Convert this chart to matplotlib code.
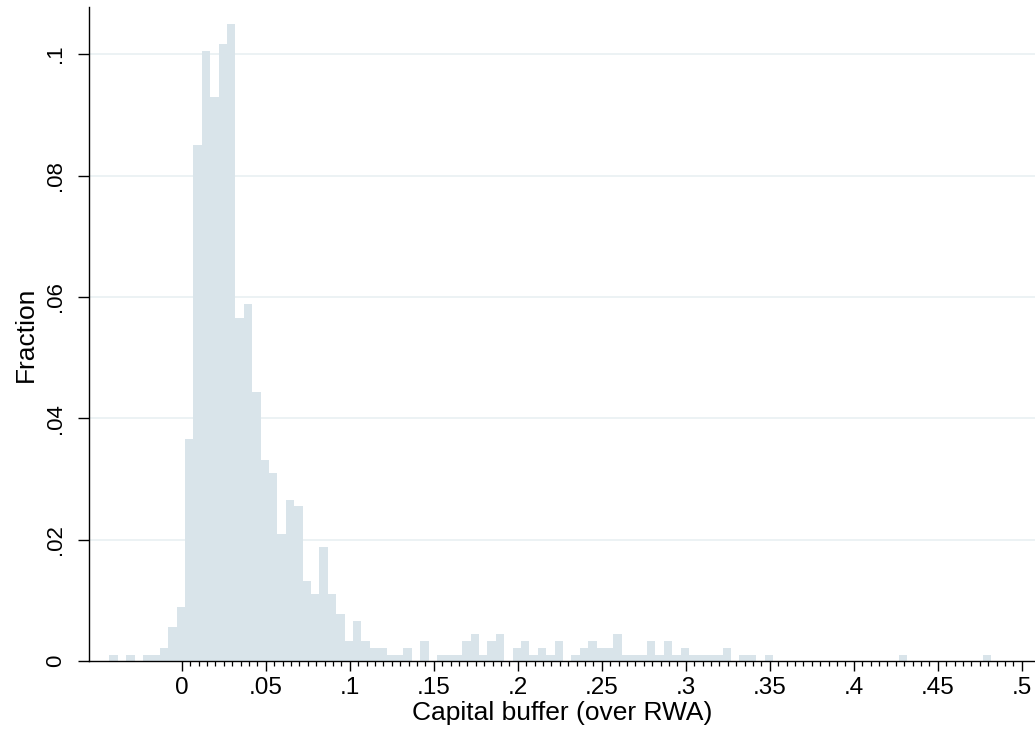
import numpy as np
import matplotlib
matplotlib.use("Agg")
import matplotlib.pyplot as plt
from matplotlib.ticker import FixedLocator

plt.rcParams['font.family'] = ['Liberation Sans', 'DejaVu Sans']

## Histogram: fraction per bin (bin width .005)
bin_start = -0.043
bin_w = 0.005
frac = [
    .0011, 0, .0011, 0, .0011, .0011, .0022, .0056, .0089, .0366,    # 0-9
    .0851, .1005, .0929, .1016, .1050, .0566, .0588, .0443, .0332, .0310,  # 10-19
    .0210, .0266, .0255, .0133, .0111, .0188, .0111, .0078, .0034, .0066,  # 20-29
    .0034, .0022, .0022, .0011, .0011, .0022, 0, .0034, 0, .0011,   # 30-39
    .0011, .0011, .0034, .0045, .0011, .0034, .0045, 0, .0022, .0034,  # 40-49
    .0011, .0022, .0011, .0034, 0, .0011, .0022, .0034, .0022, .0022,  # 50-59
    .0045, .0011, .0011, .0011, .0034, .0011, .0034, .0011, .0022, .0011,  # 60-69
    .0011, .0011, .0011, .0022, 0, .0011, .0011, 0, .0011, 0,      # 70-79
    0, 0, 0, 0, 0, 0, 0, 0, 0, 0,                                   # 80-89
    0, 0, 0, 0, .0011, 0, 0, 0, 0, 0,                               # 90-99
    0, 0, 0, 0, .0011,                                              # 100-104
]
x_ticks = [0, .05, .1, .15, .2, .25, .3, .35, .4, .45, .5]
x_labels = ['0', '.05', '.1', '.15', '.2', '.25', '.3', '.35', '.4', '.45', '.5']
y_ticks = [0, .02, .04, .06, .08, .1]
y_labels = ['0', '.02', '.04', '.06', '.08', '.1']

bar_col = '#d9e4ea'
grid_col = '#eaf1f3'

fig = plt.figure(figsize=(10.35, 7.37), dpi=100)
ax = fig.add_axes([0.0863, 0.1027, 0.9137, 0.8882])

left_edges = bin_start + bin_w * np.arange(len(frac))
ax.bar(left_edges, frac, width=bin_w, align='edge', color=bar_col,
       linewidth=0, zorder=2)

for yv in y_ticks[1:]:
    ax.axhline(yv, color=grid_col, lw=1.3, zorder=1)

ax.set_xlim(-0.055, 0.5079)
ax.set_ylim(0, 0.1078)

ax.set_xticks(x_ticks)
ax.set_xticklabels(x_labels)
ax.xaxis.set_minor_locator(FixedLocator(np.arange(0, 0.5001, 0.005)))
ax.set_yticks(y_ticks)
ax.set_yticklabels(y_labels, rotation=90, va='center')

ax.tick_params(axis='x', which='major', length=7.5, width=1, pad=4, labelsize=17.5)
ax.tick_params(axis='x', which='minor', length=3.6, width=0.9)
ax.tick_params(axis='y', which='major', length=8, width=1, pad=9, labelsize=16)

for s in ['top', 'right']:
    ax.spines[s].set_visible(False)
for s in ['left', 'bottom']:
    ax.spines[s].set_linewidth(1.0)

ax.set_xlabel('Capital buffer (over RWA)', fontsize=19, labelpad=1)
ax.set_ylabel('Fraction', fontsize=19, labelpad=5)

fig.savefig('out.png', dpi=100)
